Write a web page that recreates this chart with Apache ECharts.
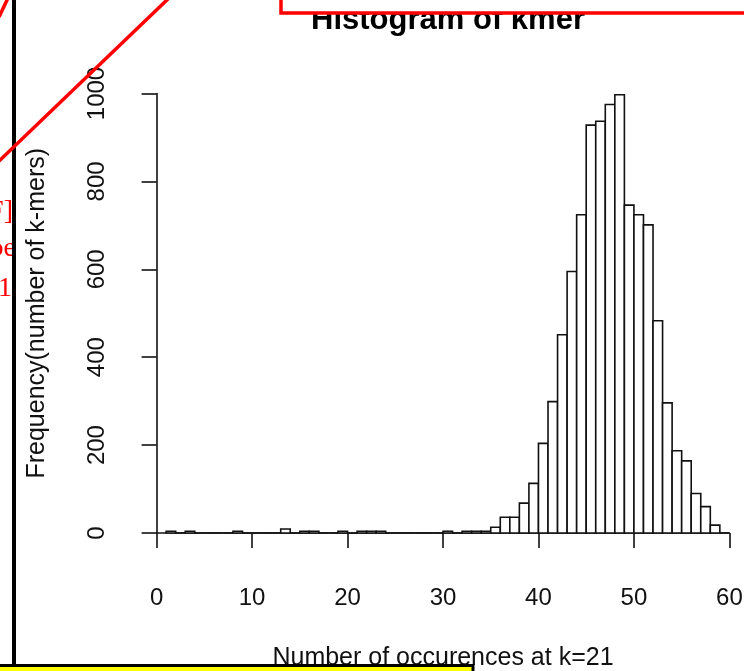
<!DOCTYPE html>
<html><head><meta charset="utf-8">
<script src="https://cdn.jsdelivr.net/npm/echarts@6/dist/echarts.min.js"></script>
<style>html,body{margin:0;padding:0;background:#fff}#c{width:744px;height:671px}</style>
</head><body><div id="c"></div>
<script>
// Histogram bins (left edge of each bin, bin width 1)
const binStarts = [1,2,3,4,5,6,7,8,9,10,11,12,13,14,15,16,17,18,19,20,21,22,23,24,25,26,27,28,29,30,31,32,33,34,35,36,37,38,39,40,41,42,43,44,45,46,47,48,49,50,51,52,53,54,55,56,57,58,59];
const counts = [4,0,4,0,0,0,0,4,0,0,0,0,9,0,4,4,0,0,4,0,4,4,4,0,0,0,0,0,0,4,0,4,4,4,13,36,36,68,113,204,299,451,595,724,928,937,975,997,746,724,701,483,296,187,164,90,60,18,0];
const binWidth = 1;
const xTicks = [0,10,20,30,40,50,60];
const yTicks = [0,200,400,600,800,1000];

const FONT = '"Liberation Sans", Arial, sans-serif';
const chart = echarts.init(document.getElementById('c'), null, {renderer:'canvas'});
const data = binStarts.map((b,i)=>[b, counts[i]]);

chart.setOption({
  animation:false,
  backgroundColor:'#fff',
  title:{
    text:'Histogram of kmer', left:443, top:0, textAlign:'center',
    textStyle:{fontFamily:FONT, fontSize:31, fontWeight:'bold', color:'#000'}
  },
  grid:{left:156.6, right:14.6, top:93.5, bottom:138, containLabel:false, outerBoundsMode:'none'},
  xAxis:{
    type:'value', min:xTicks[0], max:xTicks[xTicks.length-1], interval:10, offset:18,
    axisLine:{show:true, lineStyle:{color:'#111', width:1.6}},
    axisTick:{show:true, inside:false, length:15, lineStyle:{color:'#111', width:1.6}},
    axisLabel:{fontFamily:FONT, fontSize:24, color:'#111', margin:35, formatter:v=>String(v), hideOverlap:false},
    splitLine:{show:false},
    name:'Number of occurences at k=21', nameLocation:'middle', nameGap:95,
    nameTextStyle:{fontFamily:FONT, fontSize:25, color:'#111'}
  },
  yAxis:{
    type:'value', min:yTicks[0], max:yTicks[yTicks.length-1], interval:200, offset:13,
    axisLine:{show:true, lineStyle:{color:'#111', width:1.6}},
    axisTick:{show:true, inside:false, length:15, lineStyle:{color:'#111', width:1.6}},
    axisLabel:{fontFamily:FONT, fontSize:24, color:'#111', margin:34, rotate:90, formatter:v=>String(v), hideOverlap:false},
    splitLine:{show:false},
    name:'Frequency(number of k-mers)', nameLocation:'middle', nameGap:94,
    nameTextStyle:{fontFamily:FONT, fontSize:25, color:'#111'}
  },
  series:[{
    type:'custom',
    data:data,
    encode:{x:0, y:1},
    clip:false,
    renderItem:function(params, api){
      const x0 = api.value(0), c = api.value(1);
      const p0 = api.coord([x0, 0]);
      const p1 = api.coord([x0 + binWidth, c]);
      return {type:'rect',
        shape:{x:p0[0], y:p1[1], width:p1[0]-p0[0], height:p0[1]-p1[1]},
        style:{fill:'#fff', stroke:'#111', lineWidth:1.6}};
    }
  }],
  graphic:[
    {type:'rect', z:100, shape:{x:281, y:-10, width:480, height:23}, style:{fill:'#fff', stroke:'#f00', lineWidth:3.5}},
    {type:'text', z:100, style:{text:'F]', x:13, y:212, align:'right', verticalAlign:'middle', font:'28px "Liberation Serif", serif', fill:'#f00'}},
    {type:'text', z:100, style:{text:'oe', x:16, y:249, align:'right', verticalAlign:'middle', font:'28px "Liberation Serif", serif', fill:'#f00'}},
    {type:'text', z:100, style:{text:'11', x:12, y:289, align:'right', verticalAlign:'middle', font:'28px "Liberation Serif", serif', fill:'#f00'}},
    {type:'rect', z:101, shape:{x:12, y:-5, width:4, height:690}, style:{fill:'#000'}},
    {type:'line', z:102, shape:{x1:-2, y1:162, x2:169, y2:-2}, style:{stroke:'#f00', lineWidth:3.5}},
    {type:'line', z:102, shape:{x1:-1, y1:17, x2:8, y2:-2}, style:{stroke:'#f00', lineWidth:3.5}},
    {type:'rect', z:103, shape:{x:-5, y:665.5, width:478, height:20}, style:{fill:'#ffff00', stroke:'#000', lineWidth:3}}
  ]
});
</script></body></html>
